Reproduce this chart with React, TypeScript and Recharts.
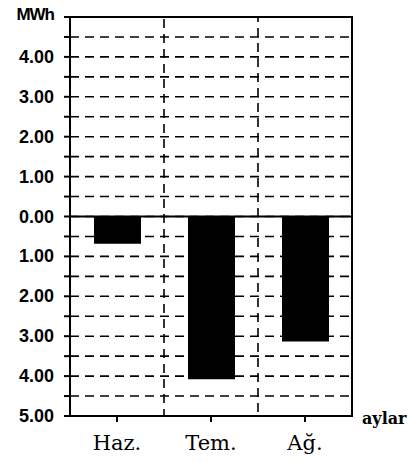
import React from 'react';
import { BarChart, Bar, XAxis, YAxis, CartesianGrid, ReferenceLine, ReferenceArea } from 'recharts';

const categories = ['Haz.', 'Tem.', 'Ağ.'];
const values = [-0.68, -4.08, -3.13];
const yTicks = [-5, -4.5, -4, -3.5, -3, -2.5, -2, -1.5, -1, -0.5, 0, 0.5, 1, 1.5, 2, 2.5, 3, 3.5, 4, 4.5, 5];
const yUnit = 'MWh';
const xTitle = 'aylar';

const data = categories.map((c, i) => ({ name: c, value: values[i] }));

const YTick = (props: any) => {
  const { x, y, payload } = props;
  const v = payload.value as number;
  if (v === 5) {
    return (
      <text x={x} y={y - 3} textAnchor="end" dominantBaseline="central"
        fontFamily="Liberation Sans, Arial, sans-serif" fontWeight="bold" fontSize={17} fill="#000"
        letterSpacing={-1}>
        {yUnit}
      </text>
    );
  }
  if (!Number.isInteger(v)) return null;
  return (
    <text x={x} y={y} textAnchor="end" dominantBaseline="central"
      fontFamily="Liberation Sans, Arial, sans-serif" fontWeight="bold" fontSize={18} fill="#000">
      {Math.abs(v).toFixed(2)}
    </text>
  );
};

const XTick = (props: any) => {
  const { x, y, payload } = props;
  return (
    <text x={x} y={y} dy={26} textAnchor="middle"
      fontFamily="DejaVu Serif, serif" fontSize={21} fill="#000">
      {payload.value}
    </text>
  );
};

const XTitle = (props: any) => {
  const { viewBox } = props;
  return (
    <text x={viewBox.x + viewBox.width + 10} y={viewBox.y + 8}
      fontFamily="DejaVu Serif, serif" fontWeight="bold" fontSize={16} fill="#000">
      {xTitle}
    </text>
  );
};

export default function App() {
  const first = categories[0];
  const mid = categories[1];
  const last = categories[categories.length - 1];
  return (
    <div style={{ position: 'absolute', left: 0, top: 0, width: 411, height: 462, background: '#fff' }}>
      <BarChart width={411} height={462} data={data}
        margin={{ top: 17, right: 59, bottom: 0, left: 0 }}>
        <CartesianGrid horizontal vertical={false} stroke="#000" strokeWidth={1.6} strokeDasharray="9 6" />
        <XAxis dataKey="name" height={46} tickSize={6} tick={<XTick />}
          tickLine={{ stroke: '#000', strokeWidth: 2 }} axisLine={{ stroke: '#000', strokeWidth: 2 }}
          label={<XTitle />} />
        <YAxis width={70} domain={[-5, 5]} ticks={yTicks} interval={0} tickSize={6} tickMargin={10}
          tick={<YTick />} tickLine={{ stroke: '#000', strokeWidth: 2 }}
          axisLine={{ stroke: '#000', strokeWidth: 2 }} allowDataOverflow />
        <ReferenceArea x1={mid} x2={mid} y1={-5} y2={5} fill="none" fillOpacity={0}
          stroke="#000" strokeWidth={1.6} strokeDasharray="9 6" />
        <ReferenceArea x1={first} x2={last} y1={-5} y2={5} fill="none" fillOpacity={0}
          stroke="#000" strokeWidth={2} />
        <Bar dataKey="value" fill="#000" barSize={47} isAnimationActive={false} />
        <ReferenceLine y={0} stroke="#000" strokeWidth={2} />
      </BarChart>
    </div>
  );
}
